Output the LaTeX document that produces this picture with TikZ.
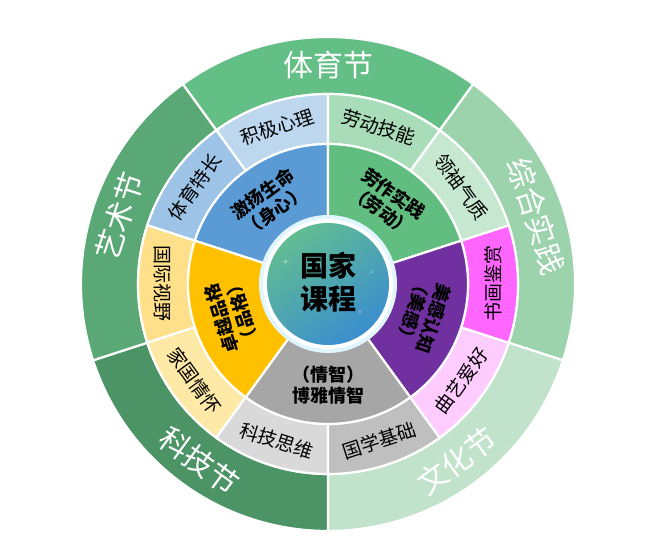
\documentclass[tikz,border=0pt]{standalone}
\usepackage{fontspec}
\newfontfamily\cjk{Noto Sans CJK SC}
\definecolor{fA}{HTML}{64BF87}
\definecolor{fB}{HTML}{9CD3AD}
\definecolor{fC}{HTML}{C2E3CB}
\definecolor{fD}{HTML}{4C9466}
\definecolor{fE}{HTML}{59A875}
\definecolor{mA}{HTML}{BDD7EE}
\definecolor{mB}{HTML}{9DC3E6}
\definecolor{mC}{HTML}{FFE08A}
\definecolor{mD}{HTML}{FFE9A6}
\definecolor{mE}{HTML}{D9D9D9}
\definecolor{mF}{HTML}{BFBFBF}
\definecolor{mG}{HTML}{FFCCFF}
\definecolor{mH}{HTML}{FF66FF}
\definecolor{mI}{HTML}{C6E8D0}
\definecolor{mJ}{HTML}{A9DCB8}
\definecolor{iA}{HTML}{5B9BD5}
\definecolor{iB}{HTML}{62BE80}
\definecolor{iC}{HTML}{7030A0}
\definecolor{iD}{HTML}{A6A6A6}
\definecolor{iE}{HTML}{FFC000}
\definecolor{cA}{HTML}{62BC92}
\definecolor{cB}{HTML}{3A8ECF}
\newcommand\mysect[5]{\fill[#5,draw=white,line width=2.2pt] (#1:#3) arc[start angle=#1,end angle=#2,radius=#3] -- (#2:#4) arc[start angle=#2,end angle=#1,radius=#4] -- cycle;}
\tikzset{
 fest/.style={font=\cjk\fontsize{30}{34}\selectfont,text=white},
 mid/.style={font=\cjk\fontsize{19}{22}\selectfont,text=black},
 inn/.style={font=\cjk\bfseries\fontsize{18}{21}\selectfont,text=black,align=center},
}
\begin{document}
\begin{tikzpicture}[x=1pt,y=1pt]
\useasboundingbox (0,0) rectangle (654,548);
\begin{scope}[shift={(328,264)}]
% outer festival ring
\mysect{54}{126}{247}{190}{fA}
\mysect{-18}{54}{247}{190}{fB}
\mysect{-90}{-18}{247}{190}{fC}
\mysect{198}{270}{247}{190}{fD}
\mysect{126}{198}{247}{190}{fE}
% middle ring
\mysect{90}{126}{190}{140}{mA}
\mysect{126}{162}{190}{140}{mB}
\mysect{162}{198}{190}{140}{mC}
\mysect{198}{234}{190}{140}{mD}
\mysect{234}{270}{190}{140}{mE}
\mysect{270}{306}{190}{140}{mF}
\mysect{306}{342}{190}{140}{mG}
\mysect{342}{378}{190}{140}{mH}
\mysect{18}{54}{190}{140}{mI}
\mysect{54}{90}{190}{140}{mJ}
% inner sectors
\mysect{90}{162}{140}{60}{iA}
\mysect{18}{90}{140}{60}{iB}
\mysect{-54}{18}{140}{60}{iC}
\mysect{234}{306}{140}{60}{iD}
\mysect{162}{234}{140}{60}{iE}
% centre
\fill[white!88!cyan] (0,0) circle (69);
\fill[white] (0,0) circle (65);
\shade[top color=cA, bottom color=cB, shading angle=35] (0,0) circle (61);
\node[font=\cjk\bfseries\fontsize{28}{33}\selectfont,align=center] (core) at (0,2) {国家\\课程};
\node[white,font=\small] (sp1) at (-42,22) {+};
\node[white,font=\tiny] (sp2) at (44,12) {$\circ$};
\node[white,font=\tiny] (sp3) at (32,-28) {$\times$};
% festival labels
\foreach \a/\r/\t [count=\i] in {90/0/体育节,18/-72/综合实践,-54/36/文化节,234/-36/科技节,162/72/艺术节}{
  \node[fest,rotate=\r] (f\i) at (\a:219) {\t};
}
% middle labels
\foreach \a/\r/\t [count=\i] in {108/18/积极心理,144/54/体育特长,180/-90/国际视野,216/-54/家国情怀,252/-18/科技思维,288/18/国学基础,324/54/曲艺爱好,0/90/书画鉴赏,36/-54/领袖气质,72/-18/劳动技能}{
  \node[mid,rotate=\r] (m\i) at (\a:165) {\t};
}
% inner labels
\node[inn,rotate=36] (i1) at (126:101) {激扬生命\\（身心）};
\node[inn,rotate=-36] (i2) at (54:101) {劳作实践\\（劳动）};
\node[inn,rotate=-108] (i3) at (-18:101) {美感认知\\（美感）};
\node[inn] (i4) at (270:101) {（情智）\\博雅情智};
\node[inn,rotate=108] (i5) at (198:101) {卓越品格\\（品格）};
\end{scope}
\end{tikzpicture}
\end{document}
